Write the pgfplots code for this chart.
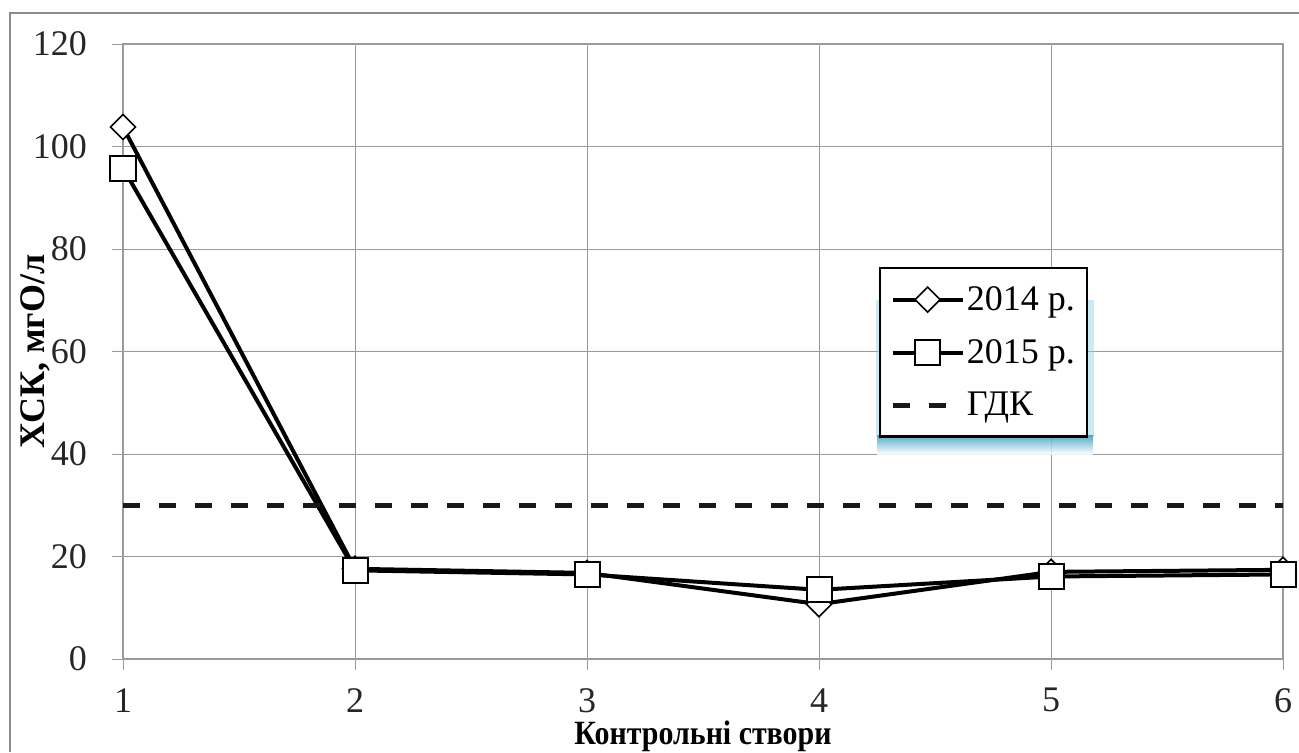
\documentclass[border=0pt]{standalone}
\usepackage{fontspec}
\setmainfont{Liberation Serif}
\newfontfamily\condfont{Liberation Serif}[FakeStretch=0.88]
\usepackage{pgfplots}
\pgfplotsset{compat=1.18}
\definecolor{gridgray}{HTML}{9A9A9A}
\definecolor{framegray}{HTML}{8C8C8C}
\definecolor{glow}{HTML}{8FD0E2}
\definecolor{glowdark}{HTML}{3A9EC0}
\begin{document}
\begin{tikzpicture}
\useasboundingbox (-61.5pt,-46.5pt) rectangle (588pt,329.5pt);
\draw[framegray, line width=1.3pt] (-56.5pt,-46.5pt) -- (-56.5pt,323pt) -- (588pt,323pt);
\begin{axis}[
  at={(0,0)}, anchor=south west,
  scale only axis, width=580pt, height=307.5pt,
  xmin=1, xmax=6, ymin=0, ymax=120,
  xtick={1,2,3,4,5,6}, ytick={0,20,40,60,80,100,120},
  grid=major,
  grid style={gridgray, line width=0.5pt},
  axis line style={gridgray, line width=0.6pt},
  tick style={gridgray, line width=0.5pt},
  tick align=outside, major tick length=5.5pt,
  xtick pos=bottom, ytick pos=left,
  font=\fontsize{18pt}{21pt}\selectfont,
  /pgf/number format/assume math mode=true,
  tick label style={black!85},
  xticklabel style={inner sep=0pt, yshift=-9pt},
  yticklabel style={xshift=-9pt},
  xlabel={\condfont\fontsize{17pt}{19pt}\selectfont\bfseries Контрольні створи},
  xlabel style={at={([yshift=-38.5pt]rel axis cs:0.5,0)}, anchor=center, inner sep=0pt},
  ylabel={\bfseries ХСК, мгО/л},
  ylabel style={at={([xshift=-44pt]rel axis cs:0,0.5)}, anchor=center},
  legend style={at={(axis cs:4.259,76.5)}, anchor=north west, draw=black, line width=1.2pt,
    fill=white, inner xsep=5pt, inner ysep=8pt, row sep=11pt,
    font=\fontsize{18pt}{21pt}\selectfont,
    nodes={inner sep=1pt}},
  legend cell align=left,
  legend image code/.code={\draw[mark repeat=2,mark phase=2] plot coordinates {(0pt,0pt)(17.5pt,0pt)(35pt,0pt)};},
]
\fill[glow, opacity=0.45] (axis cs:4.247,70) rectangle (axis cs:5.184,43.3);
\shade[top color=glowdark, bottom color=white, opacity=0.85] (axis cs:4.250,43.6) rectangle (axis cs:5.181,40.0);
\addplot[black, line width=2pt, mark=square*, mark size=4.42pt,
  mark options={rotate=45, fill=white, line width=0.8pt, solid}]
  coordinates {(1,103.8) (2,17.6) (3,16.8) (4,10.7) (5,17.0) (6,17.4)};
\addlegendentry{2014 р.}
\addplot[black, line width=2pt, mark=square*, mark size=6.25pt,
  mark options={fill=white, line width=1pt, solid}]
  coordinates {(1,95.8) (2,17.3) (3,16.5) (4,13.5) (5,16.1) (6,16.5)};
\addlegendentry{2015 р.}
\addplot[black!90, line width=2.3pt, dash pattern=on 8.5pt off 9.5pt, no marks]
  coordinates {(1,30) (6,30)};
\addlegendentry{ГДК}
\end{axis}
\end{tikzpicture}
\end{document}
